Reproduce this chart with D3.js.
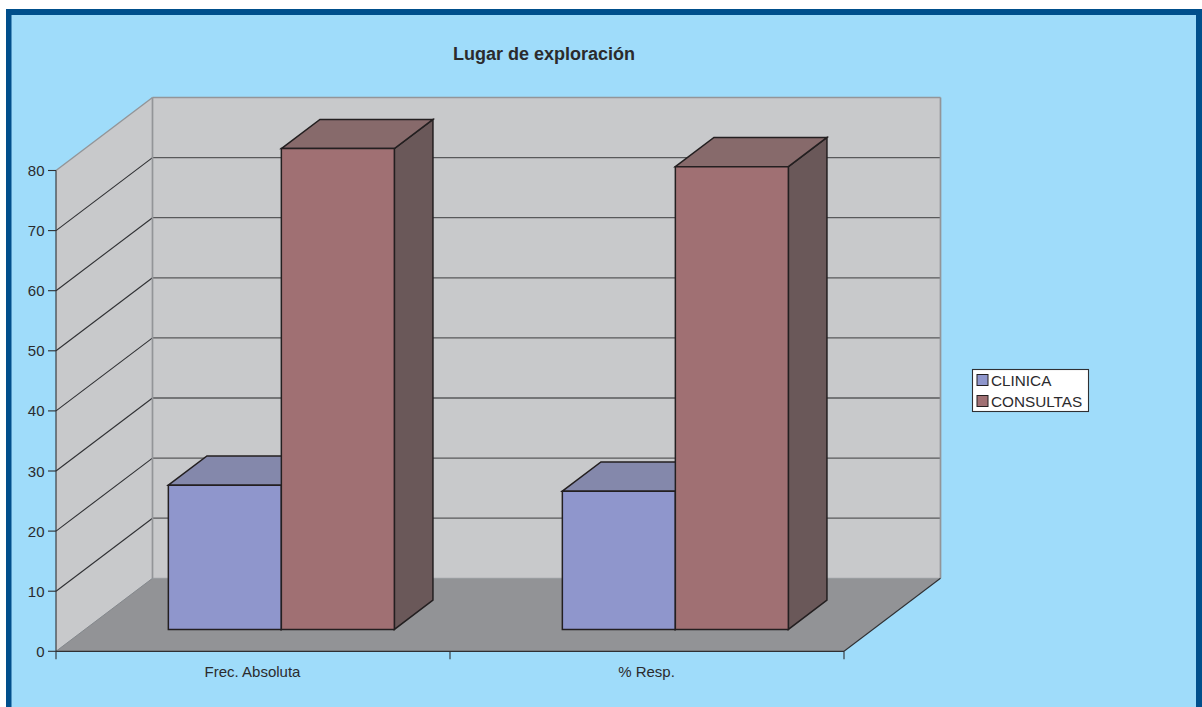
<!DOCTYPE html>
<html>
<head>
<meta charset="utf-8">
<script src="https://cdn.jsdelivr.net/npm/d3@7"></script>
<style>
  html, body { margin: 0; padding: 0; background: #fff; }
  svg { display: block; }
  text { font-family: "Liberation Sans", Arial, sans-serif; fill: #2b2b2d; }
</style>
</head>
<body>
<svg id="chart" width="1202" height="707"></svg>
<script>
const categories = ["Frec. Absoluta", "% Resp."];
const seriesNames = ["CLINICA", "CONSULTAS"];
const clinica = [24, 23];
const consultas = [80, 77];
const yTicks = [0, 10, 20, 30, 40, 50, 60, 70, 80];
const chartTitle = "Lugar de exploración";

const faceColors = {
  CLINICA: { front: "#8f96cc", top: "#8488ab", side: "#6c6f91" },
  CONSULTAS: { front: "#a07073", top: "#876a6b", side: "#6a5859" }
};

const svg = d3.select("#chart");

// Front plane of the 3-D box
const x = d3.scaleBand().domain(categories).range([56, 844]).paddingInner(0).paddingOuter(0);
const y = d3.scaleLinear().domain([0, 80]).range([651.3, 170.5]);
const bars = d3.scaleBand().domain(seriesNames).range([83.4, 309.4]);

// Oblique projection: depth runs from 0 (front) to 1 (back wall)
const depthX = 96.5, depthY = -73;
const project = (px, py, d) => [px + d * depthX, py + d * depthY];
const barFront = 0.3, barBack = 0.7;
const poly = pts => pts.map(p => p.join(",")).join(" ");

const x0 = x.range()[0], x1 = x.range()[1];
const y0 = y(0), yTop = y(80);

// Page frame
svg.append("rect").attr("x", 6).attr("y", 9).attr("width", 1196).attr("height", 698).attr("fill", "#004f8c");
svg.append("rect").attr("x", 11.5).attr("y", 15).attr("width", 1184.5).attr("height", 692).attr("fill", "#9fdcfa");

// Title
svg.append("text").attr("x", 544).attr("y", 60).attr("text-anchor", "middle")
  .attr("font-size", 18).attr("font-weight", "bold").text(chartTitle);

// Walls and floor
const wallEdge = "#939598";
svg.append("polygon")
  .attr("points", poly([[x0, yTop], project(x0, yTop, 1), project(x0, y0, 1), [x0, y0]]))
  .attr("fill", "#c8c9cb");
svg.append("polygon")
  .attr("points", poly([project(x0, yTop, 1), project(x1, yTop, 1), project(x1, y0, 1), project(x0, y0, 1)]))
  .attr("fill", "#c8c9cb");
svg.append("polygon")
  .attr("points", poly([[x0, y0], [x1, y0], project(x1, y0, 1), project(x0, y0, 1)]))
  .attr("fill", "#929396");

// Gridlines on the side and back walls
yTicks.filter(t => t > 0 && t < 80).forEach(t => {
  const [bx, by] = project(x0, y(t), 1);
  const [ex] = project(x1, y(t), 1);
  svg.append("line").attr("x1", x0).attr("y1", y(t)).attr("x2", bx).attr("y2", by)
    .attr("stroke", "#2f3033").attr("stroke-width", 1.1);
  svg.append("line").attr("x1", bx).attr("y1", by).attr("x2", ex).attr("y2", by)
    .attr("stroke", "#58595b").attr("stroke-width", 1.3);
});

// Wall outlines
const outline = (a, b, stroke, w) => svg.append("line")
  .attr("x1", a[0]).attr("y1", a[1]).attr("x2", b[0]).attr("y2", b[1])
  .attr("stroke", stroke).attr("stroke-width", w);
outline([x0, yTop], project(x0, yTop, 1), wallEdge, 1.4);
outline(project(x0, yTop, 1), project(x1, yTop, 1), wallEdge, 1.4);
outline(project(x1, yTop, 1), project(x1, y0, 1), wallEdge, 1.7);
outline(project(x0, yTop, 1), project(x0, y0, 1), wallEdge, 1.7);
outline(project(x0, y0, 1), project(x1, y0, 1), "#9a9b9e", 1);
outline([x0, y0], project(x0, y0, 1), "#86878a", 1);
outline([x1, y0], project(x1, y0, 1), "#2f3033", 1.1);

// Columns, drawn series by series so the nearer faces overlap correctly
const barRows = categories.flatMap((c, i) => [
  { category: c, series: seriesNames[0], value: clinica[i] },
  { category: c, series: seriesNames[1], value: consultas[i] }
]);

barRows.forEach(d => {
  const left = x(d.category) + bars(d.series);
  const right = left + bars.bandwidth();
  const top = y(d.value), base = y(0);
  const A = project(left, top, barFront), B = project(right, top, barFront);
  const C = project(right, base, barFront), D = project(left, base, barFront);
  const At = project(left, top, barBack), Bt = project(right, top, barBack);
  const Ct = project(right, base, barBack);
  const g = svg.append("g");
  const faces = [
    [[B, Bt, Ct, C], faceColors[d.series].side],
    [[A, At, Bt, B], faceColors[d.series].top],
    [[A, B, C, D], faceColors[d.series].front]
  ];
  faces.forEach(([pts, fill]) => {
    g.append("polygon").attr("points", poly(pts)).attr("fill", fill)
      .attr("stroke", "#231f20").attr("stroke-width", 1.5);
  });
});

// Value axis
const axisColor = "#2f3033";
outline([x0, yTop], [x0, y0], axisColor, 1.1);
yTicks.forEach(t => {
  outline([x0 - 8, y(t)], [x0, y(t)], axisColor, 1.1);
  svg.append("text").attr("x", x0 - 11.5).attr("y", y(t) + 5.5)
    .attr("text-anchor", "end").attr("font-size", 15).text(t);
});

// Category axis
outline([x0, y0], [x1, y0], axisColor, 1.3);
[x0, x(categories[1]), x1].forEach(px => outline([px, y0], [px, y0 + 8], axisColor, 1.1));
categories.forEach(c => {
  svg.append("text").attr("x", x(c) + x.bandwidth() / 2 - 0.5).attr("y", 677)
    .attr("text-anchor", "middle").attr("font-size", 15).text(c);
});

// Legend
svg.append("rect").attr("x", 972.5).attr("y", 369.5).attr("width", 116).attr("height", 42)
  .attr("fill", "#fff").attr("stroke", "#2f3033").attr("stroke-width", 1.1);
seriesNames.forEach((s, i) => {
  const ly = 374.5 + i * 21;
  svg.append("rect").attr("x", 977).attr("y", ly).attr("width", 11).attr("height", 11)
    .attr("fill", faceColors[s].front).attr("stroke", "#231f20").attr("stroke-width", 1);
  svg.append("text").attr("x", 991).attr("y", ly + 11).attr("font-size", 15.3).text(s);
});
</script>
</body>
</html>
